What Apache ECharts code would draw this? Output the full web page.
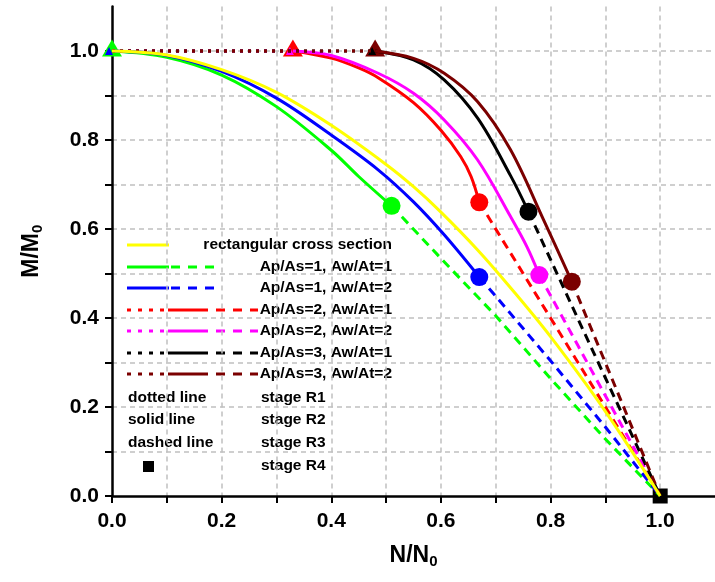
<!DOCTYPE html>
<html><head><meta charset="utf-8">
<script src="https://cdn.jsdelivr.net/npm/echarts@6/dist/echarts.min.js"></script>
<style>html,body{margin:0;padding:0;background:#fff}#c{width:715px;height:582px}</style>
</head><body><div id="c"></div>
<script>
// ---- data ----
const rectX = [0, 0.1, 0.2, 0.3, 0.4, 0.5, 0.55, 0.6, 0.667, 0.727, 0.8, 0.9, 1.0];
const rectY = [1.0, 0.991, 0.958, 0.907, 0.833, 0.745, 0.695, 0.638, 0.553, 0.468, 0.358, 0.19, 0.0];

const g1SolidX = [0, 0.1, 0.2, 0.3, 0.4, 0.45, 0.51];
const g1SolidY = [1.0, 0.986, 0.946, 0.875, 0.777, 0.718, 0.652];
const g1DashX = [0.51, 0.6, 0.7, 0.8, 0.9, 1.0];
const g1DashY = [0.652, 0.534, 0.405, 0.264, 0.128, 0.0];

const b1SolidX = [0, 0.1, 0.2, 0.3, 0.4, 0.4855, 0.55, 0.606, 0.67];
const b1SolidY = [1.0, 0.99, 0.954, 0.894, 0.811, 0.733, 0.661, 0.587, 0.492];
const b1DashX = [0.67, 0.7, 0.8, 0.9, 1.0];
const b1DashY = [0.492, 0.449, 0.304, 0.155, 0.0];

const r2DotX = [0, 0.33];
const r2DotY = [1.0, 1.0];
const r2SolidX = [0.33, 0.4, 0.45, 0.4855, 0.55, 0.6, 0.636, 0.655, 0.67];
const r2SolidY = [1.0, 0.984, 0.962, 0.94, 0.884, 0.822, 0.763, 0.718, 0.66];
const r2DashX = [0.67, 0.75, 0.85, 0.93, 1.0];
const r2DashY = [0.66, 0.50, 0.30, 0.14, 0.0];

const m2DotX = [0, 0.33];
const m2DotY = [1.0, 1.0];
const m2SolidX = [0.33, 0.4, 0.4855, 0.55, 0.606, 0.667, 0.727, 0.757, 0.7795];
const m2SolidY = [1.0, 0.99, 0.95, 0.905, 0.845, 0.755, 0.628, 0.56, 0.4966];
const m2DashX = [0.7795, 0.85, 0.93, 1.0];
const m2DashY = [0.4966, 0.338, 0.158, 0.0];

const k3DotX = [0, 0.48];
const k3DotY = [1.0, 1.0];
const k3SolidX = [0.48, 0.55, 0.606, 0.667, 0.727, 0.7597];
const k3SolidY = [1.0, 0.98, 0.935, 0.849, 0.72, 0.639];
const k3DashX = [0.7597, 0.85, 0.93, 1.0];
const k3DashY = [0.639, 0.398, 0.186, 0.0];

const d3DotX = [0, 0.48];
const d3DotY = [1.0, 1.0];
const d3SolidX = [0.48, 0.55, 0.606, 0.667, 0.727, 0.7875, 0.8388];
const d3SolidY = [1.0, 0.9835, 0.95, 0.886, 0.778, 0.62, 0.4816];
const d3DashX = [0.8388, 0.92, 1.0];
const d3DashY = [0.4816, 0.24, 0.0];

const endX = [1.0], endY = [0.0];

const legendLabels = ['rectangular cross section', 'Ap/As=1, Aw/At=1', 'Ap/As=1, Aw/At=2',
  'Ap/As=2, Aw/At=1', 'Ap/As=2, Aw/At=2', 'Ap/As=3, Aw/At=1', 'Ap/As=3, Aw/At=2'];
const stageLeft = ['dotted line', 'solid line', 'dashed line', ''];
const stageRight = ['stage R1', 'stage R2', 'stage R3', 'stage R4'];
const xTicks = ['0.0', '0.2', '0.4', '0.6', '0.8', '1.0'];

// ---- styles ----
const C = { yellow: '#ffff00', green: '#00ff00', blue: '#0000ff', red: '#ff0000',
  magenta: '#ff00ff', black: '#000000', dred: '#7b0000' };
const FONT = '"Liberation Sans", Arial, sans-serif';
const DASH = [9, 6], DOT = [3, 5];

const zip = (xs, ys) => xs.map((x, i) => [x, ys[i]]);
function line(xs, ys, color, type) {
  return { type: 'line', data: zip(xs, ys), symbol: 'none',
    smooth: type === 'solid' ? 0.35 : 0,
    lineStyle: { color, width: 3, type: type === 'dash' ? DASH : type === 'dot' ? DOT : 'solid' },
    silent: true, animation: false };
}
function mark(x, y, color, symbol, size, offset) {
  return { type: 'scatter', data: [[x, y]], symbol, symbolSize: size, symbolOffset: offset || [0, 0],
    itemStyle: { color, opacity: 1 }, silent: true, animation: false };
}
const fmt = v => { const r = Math.round(v * 10); return (r % 2 === 0 && r <= 10) ? xTicks[r / 2] : ''; };

const series = [
  line(g1DashX, g1DashY, C.green, 'dash'),
  line(b1DashX, b1DashY, C.blue, 'dash'),
  line(r2DashX, r2DashY, C.red, 'dash'),
  line(m2DashX, m2DashY, C.magenta, 'dash'),
  line(k3DashX, k3DashY, C.black, 'dash'),
  line(d3DashX, d3DashY, C.dred, 'dash'),
  line(g1SolidX, g1SolidY, C.green, 'solid'),
  line(b1SolidX, b1SolidY, C.blue, 'solid'),
  line(r2SolidX, r2SolidY, C.red, 'solid'),
  line(m2SolidX, m2SolidY, C.magenta, 'solid'),
  line(k3SolidX, k3SolidY, C.black, 'solid'),
  line(d3SolidX, d3SolidY, C.dred, 'solid'),
  line(r2DotX, r2DotY, C.red, 'dot'),
  line(m2DotX, m2DotY, C.magenta, 'dot'),
  line(k3DotX, k3DotY, C.black, 'dot'),
  line(d3DotX, d3DotY, C.dred, 'dot'),
  mark(g1SolidX[g1SolidX.length - 1], g1SolidY[g1SolidY.length - 1], C.green, 'circle', 18),
  mark(b1SolidX[b1SolidX.length - 1], b1SolidY[b1SolidY.length - 1], C.blue, 'circle', 18),
  mark(r2SolidX[r2SolidX.length - 1], r2SolidY[r2SolidY.length - 1], C.red, 'circle', 18),
  mark(m2SolidX[m2SolidX.length - 1], m2SolidY[m2SolidY.length - 1], C.magenta, 'circle', 18),
  mark(k3SolidX[k3SolidX.length - 1], k3SolidY[k3SolidY.length - 1], C.black, 'circle', 18),
  mark(d3SolidX[d3SolidX.length - 1], d3SolidY[d3SolidY.length - 1], C.dred, 'circle', 18),
  mark(g1SolidX[0], g1SolidY[0], C.green, 'triangle', [20, 17], [0, -3]),
  mark(b1SolidX[0], b1SolidY[0], C.blue, 'triangle', [8, 8], [-3, 0]),
  mark(r2SolidX[0], r2SolidY[0], C.red, 'triangle', [20, 17], [0, -3]),
  mark(m2SolidX[0], m2SolidY[0], C.magenta, 'triangle', [8, 8], [-3, 0]),
  mark(d3SolidX[0], d3SolidY[0], C.dred, 'triangle', [20, 17], [0, -3]),
  mark(k3SolidX[0], k3SolidY[0], C.black, 'triangle', [8, 8], [-3, 0]),
  mark(endX[0], endY[0], C.black, 'rect', 15),
  line(rectX, rectY, C.yellow, 'solid')
];

// ---- legend (drawn) ----
const graphic = [];
const rowsY = [245, 267, 288, 310, 331, 353, 374];
const kinds = [['yellow', 's'], ['green', 'sd'], ['blue', 'sd'], ['red', 'tsd'], ['magenta', 'tsd'], ['black', 'tsd'], ['dred', 'tsd']];
const seg = (x1, x2, y, color, dash) => ({ type: 'line', shape: { x1, y1: y, x2, y2: y },
  style: { stroke: color, lineWidth: 3, lineDash: dash || null }, silent: true });
const LFONT = 'bold 15.5px ' + FONT;
kinds.forEach(([c, k], i) => {
  const y = rowsY[i], col = C[c];
  if (k === 's') graphic.push(seg(127, 169, y, col));
  if (k === 'sd') { graphic.push(seg(127, 169, y, col)); graphic.push(seg(171, 214, y, col, [9, 8])); }
  if (k === 'tsd') { graphic.push(seg(127, 164, y, col, [4, 7])); graphic.push(seg(168, 208, y, col));
    graphic.push(seg(216, 258, y, col, [9, 8])); }
  graphic.push({ type: 'text', x: 392, y, silent: true,
    style: { text: legendLabels[i], font: LFONT, fill: '#000', align: 'right', verticalAlign: 'middle' } });
});
const stY = [398, 420, 443, 466];
stY.forEach((y, i) => {
  if (stageLeft[i]) graphic.push({ type: 'text', x: 128, y, silent: true,
    style: { text: stageLeft[i], font: LFONT, fill: '#000', align: 'left', verticalAlign: 'middle' } });
  graphic.push({ type: 'text', x: 261, y, silent: true,
    style: { text: stageRight[i], font: LFONT, fill: '#000', align: 'left', verticalAlign: 'middle' } });
});
graphic.push({ type: 'rect', shape: { x: 143, y: 461, width: 11, height: 11 }, style: { fill: '#000' }, silent: true });

const axisCommon = {
  type: 'value', min: 0, max: 1.1, interval: 0.1,
  axisLine: { show: true, onZero: false, lineStyle: { color: '#000', width: 2.5 } },
  axisTick: { show: true, length: 7, lineStyle: { color: '#000', width: 2 } },
  axisLabel: { formatter: fmt, color: '#000', fontSize: 21, fontWeight: 'bold', fontFamily: FONT, margin: 13, showMaxLabel: false },
  splitLine: { show: true, showMaxLine: false, showMinLine: false, lineStyle: { color: '#c0c0c0', type: [5, 4], width: 1.5 } },
  nameTextStyle: { color: '#000', fontWeight: 'bold', fontFamily: FONT,
    rich: { a: { fontSize: 23, fontWeight: 'bold', fontFamily: FONT, color: '#000' },
            b: { fontSize: 15, fontWeight: 'bold', fontFamily: FONT, color: '#000', padding: [12, 0, 0, 0] } } }
};

const chart = echarts.init(document.getElementById('c'), null, { renderer: 'canvas' });
chart.setOption({
  animation: false,
  backgroundColor: '#fff',
  grid: { left: 112, top: 6.5, width: 607.2, height: 489.5, containLabel: false },
  xAxis: Object.assign({}, axisCommon, { name: '{a|N/N}{b|0}', nameLocation: 'middle', nameGap: 46,
    axisLabel: Object.assign({}, axisCommon.axisLabel, { margin: 15 }) }),
  yAxis: Object.assign({}, axisCommon, { name: '{a|M/M}{b|0}', nameLocation: 'middle', nameGap: 67, nameRotate: 90 }),
  series,
  graphic
});
</script></body></html>
